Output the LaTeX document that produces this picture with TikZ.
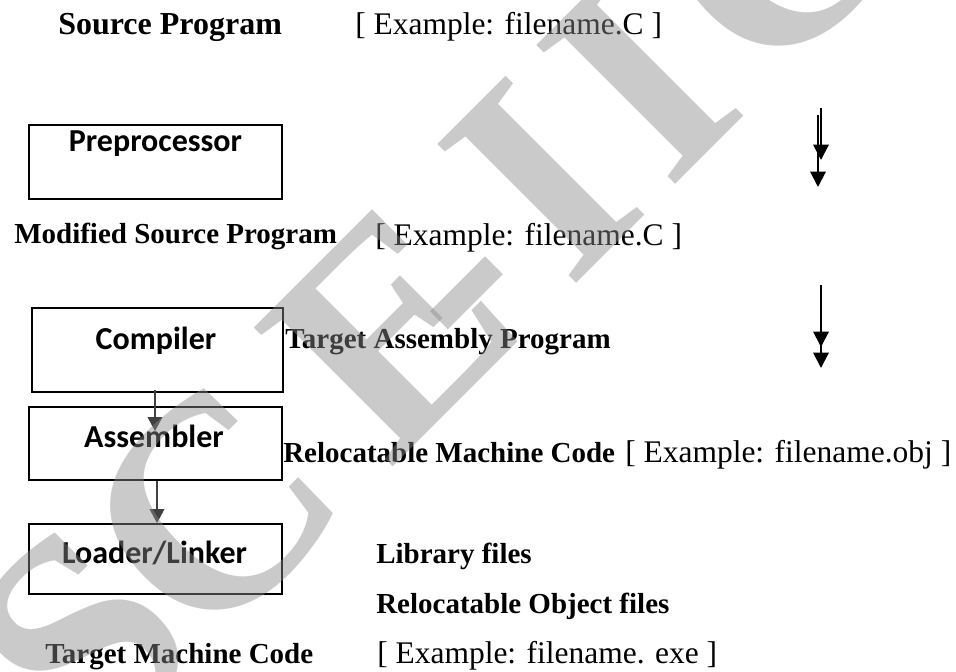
\documentclass[tikz,border=0pt]{standalone}
\usepackage{fontspec}
\setmainfont{Liberation Serif}
\newfontfamily\boxfont{Carlito}
\usetikzlibrary{arrows.meta,fit,calc}

\begin{document}
\begin{tikzpicture}[x=0.75pt,y=-0.75pt,
  lbl/.style={inner sep=0pt, anchor=base west, font=\fontsize{21.75}{24}\selectfont\bfseries},
  lblbig/.style={lbl, font=\fontsize{24}{26}\selectfont\bfseries},
  ex/.style={inner sep=0pt, anchor=base west, font=\fontsize{23.6}{26}\selectfont},
  stagebox/.style={draw, line width=1.4pt, inner sep=0pt},
  stagetext/.style={inner sep=0pt, anchor=base, font=\boxfont\fontsize{24}{26}\selectfont\bfseries},
  flow/.style={draw=black!75, line width=1.1pt, -{Triangle[length=10.5pt,width=11pt]}},
  sidearrow/.style={draw=black, line width=1.5pt, -{Triangle[length=11.5pt,width=11.5pt]}},
  wmletter/.style={inner sep=0pt, anchor=base west, text=black!46, text opacity=0.45,
    font=\fontsize{225}{230}\selectfont\bfseries}]
\useasboundingbox (0,0) rectangle (956,671);

% stage boxes
\node[stagebox, fit={(29,125)(282,199)}] (pp) {};
\node[stagebox, fit={(32,308)(283,392)}] (comp) {};
\node[stagebox, fit={(29,407)(282,480)}] (asm) {};
\node[stagebox, fit={(29,524)(282,594)}] (ld) {};

\node[stagetext] (pptxt) at (155.5,151) {Preprocessor};
\node[stagetext] (comptxt) at (156,349) {Compiler};
\node[stagetext] (asmtxt) at (154,447) {Assembler};
\node[stagetext] (ldtxt) at (154.5,563) {Loader/Linker};

% program labels
\node[lblbig] (src) at (58,34) {Source Program};
\node[ex] (srcex) at (355,34) {[ Example: filename.C ]};
\node[lbl] (mod) at (14,243) {Modified Source Program};
\node[ex] (modex) at (375,245) {[ Example: filename.C ]};
\node[lbl] (tap) at (285,348) {Target Assembly Program};
\node[lbl] (rmc) at (283,462) {Relocatable Machine Code};
\node[ex] (rmcex) at (625,462) {[ Example: filename.obj ]};
\node[lbl] (lib) at (376,563) {Library files};
\node[lbl] (rof) at (376,613) {Relocatable Object files};
\node[lbl] (tmc) at (45,663) {Target Machine Code};
\node[ex] (tmcex) at (377,663) {[ Example: filename. exe ]};

% arrows between stages
\draw[flow] ($(comp.south)+(-2.5,-3)$) -- ($(asm.north)+(-0.5,25)$);
\draw[flow] ($(asm.south)+(1.5,0)$) -- ($(ld.north)+(1.5,0)$);

% side arrows
\coordinate (a1s) at (821,108); \coordinate (a1e) at (821,160);
\coordinate (a2s) at (818,115); \coordinate (a2e) at (818,187);
\coordinate (a3s) at (821,285); \coordinate (a3e) at (821,347);
\coordinate (a4s) at (821,300); \coordinate (a4e) at (821,368);
\draw[sidearrow] (a1s) -- (a1e);
\draw[sidearrow] (a2s) -- (a2e);
\draw[sidearrow] (a3s) -- (a3e);
\draw[sidearrow] (a4s) -- (a4e);

% diagonal watermark, letters placed one by one along its baseline
\begin{scope}
\clip (0,0) rectangle (956,671);
\begin{scope}[shift={(0,860)}, rotate=45, transform shape]
\foreach \ch/\pos [count=\i] in {S/129, C/288, E/551, -/680, I/805, I/945, C/1085}
  \node[wmletter] (wm\i) at (\pos,0) {\ch};
\end{scope}
\end{scope}
\end{tikzpicture}
\end{document}
